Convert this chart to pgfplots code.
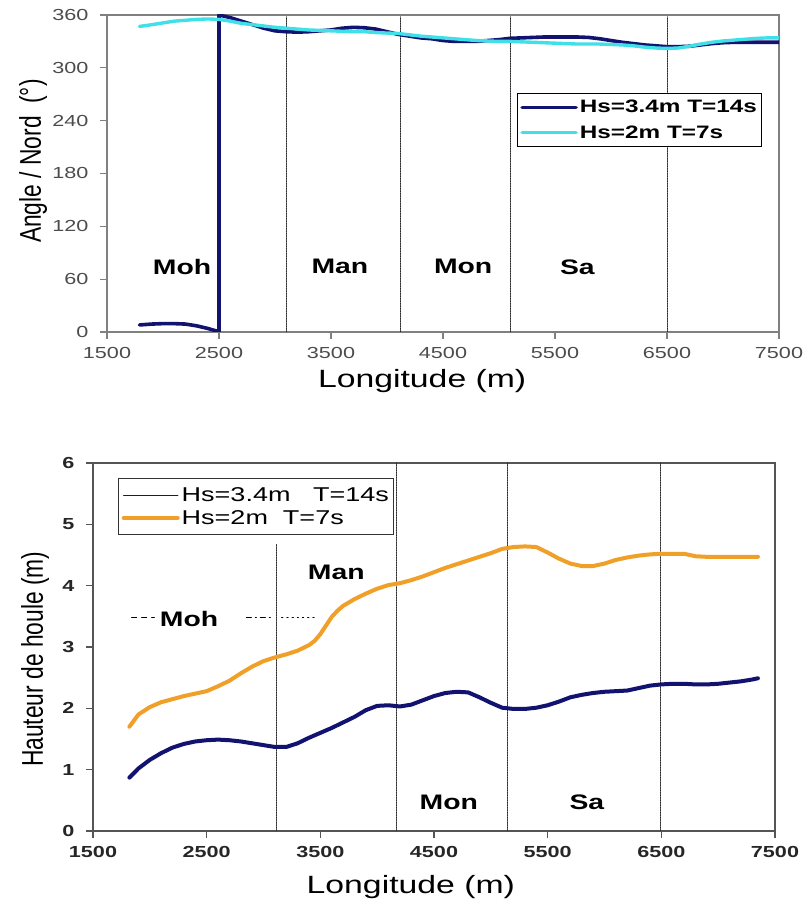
\documentclass[border=0pt]{standalone}
\usepackage{fontspec}
\setmainfont{Liberation Sans}[FakeStretch=1.35]
\newfontfamily\ylabfont{Liberation Sans}[FakeStretch=0.76]
\usepackage{pgfplots}
\pgfplotsset{compat=1.18}

\definecolor{navy}{RGB}{18,18,112}
\definecolor{aqua}{RGB}{64,224,232}
\definecolor{amber}{RGB}{240,160,40}
\definecolor{axgray}{RGB}{128,128,128}
\definecolor{axdark}{RGB}{85,85,85}

\newcommand{\fs}[1]{\fontsize{#1}{#1}\selectfont}

\tikzset{
  zone/.style={black!85, line width=0.8pt, dash pattern=on 1.5pt off 1pt},
  tag/.style={font=\bfseries\fs{21}},
}

\pgfplotsset{
  base/.style={
    scale only axis, xmin=1500, xmax=7500,
    xtick={1500,2500,...,7500},
    tick align=outside, xtick pos=left, ytick pos=left,
    major tick length=7pt,
    /pgf/number format/1000 sep={},
    /pgf/number format/assume math mode=true,
    xticklabel style={yshift=-5pt},
    yticklabel style={xshift=-8pt},
    every axis plot/.append style={line join=round, line cap=round},
    legend cell align=left,
    legend image code/.code={\draw[##1] (0pt,0pt) -- (54pt,0pt);},
  },
}

\begin{document}
\begin{tikzpicture}[x=1pt,y=1pt]
\useasboundingbox (0,0) rectangle (804,910);

% ---------- Direction de la houle ----------
\begin{axis}[base,
  at={(107pt,578pt)}, anchor=south west,
  width=672pt, height=317pt,
  ymin=0, ymax=360, ytick={0,60,...,360},
  axis line style={axgray, line width=1.2pt},
  tick style={axgray, line width=1.2pt},
  ticklabel style={font=\fs{16}, text=black!70},
  xlabel={Longitude (m)},
  xlabel style={font=\fs{25}, at={(axis description cs:0.469,-0.155)}, anchor=center},
  ylabel={Angle / Nord\ \ (°)},
  ylabel style={font=\ylabfont\fs{30}, at={(axis description cs:-0.110,0.539)}, anchor=center},
  legend style={at={(0.610,0.754)}, anchor=north west, draw=black, line width=0.8pt,
    fill=white, font=\bfseries\fs{18}, inner xsep=3pt, inner ysep=5pt, row sep=7pt},
]
\addplot[zone, forget plot] coordinates {(3100,0) (3100,358)};
\addplot[zone, forget plot] coordinates {(4120,0) (4120,358)};
\addplot[zone, forget plot] coordinates {(5100,0) (5100,358)};
\addplot[zone, forget plot] coordinates {(6500,0) (6500,358)};

\addplot[navy, line width=3.6pt] coordinates {
(1790,8) (1900,9) (2000,9.5) (2100,9.5) (2200,9) (2300,7) (2400,4) (2480,1) (2500,0)
(2500,360) (2600,357) (2700,353) (2800,349) (2900,345) (3000,342) (3100,341) (3200,340.5)
(3300,341) (3400,342) (3500,343) (3600,345) (3700,346) (3800,345.5) (3900,344) (4000,341)
(4100,338) (4200,336) (4300,334) (4400,333) (4500,331) (4600,330) (4700,330) (4800,330)
(4900,331) (5000,332) (5100,333.5) (5200,334) (5300,334.5) (5400,335) (5500,335) (5600,335)
(5700,335) (5800,334.5) (5900,333) (6000,331) (6100,329) (6200,327.5) (6300,326) (6400,325)
(6500,324) (6600,324) (6700,324.5) (6800,326) (6900,327.5) (7000,328.5) (7100,329) (7200,329)
(7300,329) (7400,329) (7500,329)};
\addlegendentry{Hs=3.4m T=14s}

\addplot[aqua, line width=3.4pt] coordinates {
(1790,347) (1900,349) (2000,351) (2100,353) (2200,354) (2300,355) (2400,355.5) (2500,355)
(2600,353) (2700,350.5) (2800,349) (2900,347.5) (3000,346) (3100,345) (3200,344) (3300,343)
(3400,342.5) (3500,342) (3600,341.5) (3700,341) (3800,341) (3900,340) (4000,339.5) (4100,339)
(4200,337.5) (4300,336) (4400,335) (4500,334) (4600,333) (4700,332) (4800,331) (4900,330.5)
(5000,330) (5100,330) (5200,329.5) (5300,329) (5400,328.5) (5500,328) (5600,327.5) (5700,327)
(5800,327) (5900,327) (6000,326.5) (6100,326) (6200,325) (6300,323.5) (6400,322.5) (6500,322)
(6600,322.5) (6700,324.5) (6800,327) (6900,329) (7000,330.5) (7100,331.5) (7200,332.5)
(7300,333.5) (7400,334) (7500,334)};
\addlegendentry{Hs=2m T=7s}

\node[tag] at (axis cs:2170,74) {Moh};
\node[tag] at (axis cs:3580,74) {Man};
\node[tag] at (axis cs:4680,74) {Mon};
\node[tag] at (axis cs:5700,74) {Sa};
\end{axis}

% ---------- Hauteur de houle ----------
\begin{axis}[base,
  at={(93pt,79pt)}, anchor=south west,
  width=682pt, height=368pt,
  ymin=0, ymax=6, ytick={0,1,...,6},
  axis line style={axdark, line width=1.2pt},
  tick style={axdark, line width=1.2pt},
  ticklabel style={font=\bfseries\fs{16}, text=black!85},
  xlabel={Longitude (m)},
  xlabel style={font=\fs{25}, at={(axis description cs:0.466,-0.152)}, anchor=center},
  ylabel={Hauteur de houle (m)},
  ylabel style={font=\ylabfont\fs{30}, at={(axis description cs:-0.085,0.467)}, anchor=center},
  legend style={at={(0.037,0.959)}, anchor=north west, draw=black!80, line width=1pt,
    fill=white, font=\fs{20}, inner xsep=3pt, inner ysep=7pt, row sep=3pt},
]
\addplot[zone, forget plot] coordinates {(3110,0) (3110,4.68)};
\addplot[zone, forget plot] coordinates {(4170,0) (4170,6)};
\addplot[zone, forget plot] coordinates {(5150,0) (5150,6)};
\addplot[zone, forget plot] coordinates {(6490,0) (6490,6)};

\addplot[navy, line width=4pt,
  legend image code/.code={\draw[navy, line width=1.5pt] (0pt,0pt) -- (54pt,0pt);}] coordinates {
(1820,0.87) (1900,1.02) (2000,1.16) (2100,1.27) (2200,1.36) (2300,1.42) (2400,1.46) (2500,1.48)
(2600,1.49) (2700,1.48) (2800,1.46) (2900,1.43) (3000,1.40) (3100,1.37) (3200,1.37) (3300,1.43)
(3400,1.52) (3500,1.60) (3600,1.68) (3700,1.77) (3800,1.86) (3900,1.97) (4000,2.04) (4100,2.05)
(4200,2.03) (4300,2.06) (4400,2.13) (4500,2.20) (4600,2.25) (4700,2.27) (4800,2.26) (4900,2.18)
(5000,2.09) (5100,2.01) (5200,1.99) (5300,1.99) (5400,2.01) (5500,2.05) (5600,2.11) (5700,2.18)
(5800,2.22) (5900,2.25) (6000,2.27) (6100,2.28) (6200,2.29) (6300,2.33) (6400,2.37) (6500,2.39)
(6600,2.40) (6700,2.40) (6800,2.39) (6900,2.39) (7000,2.40) (7100,2.42) (7200,2.44) (7300,2.47)
(7350,2.49)};
\addlegendentry{Hs=3.4m\ \ \ T=14s}

\addplot[amber, line width=4pt] coordinates {
(1820,1.70) (1900,1.90) (2000,2.02) (2100,2.10) (2200,2.15) (2300,2.20) (2400,2.24) (2500,2.28)
(2600,2.36) (2700,2.45) (2800,2.57) (2900,2.68) (3000,2.77) (3100,2.83) (3200,2.88) (3300,2.94)
(3400,3.03) (3450,3.10) (3500,3.21) (3550,3.35) (3600,3.49) (3650,3.59) (3700,3.67) (3800,3.78)
(3900,3.87) (4000,3.95) (4100,4.01)
(4200,4.04) (4300,4.09) (4400,4.15) (4500,4.22) (4600,4.29) (4700,4.35) (4800,4.41) (4900,4.47)
(5000,4.53) (5100,4.60) (5200,4.63) (5300,4.64) (5400,4.63) (5500,4.54) (5600,4.44) (5700,4.36)
(5800,4.32) (5900,4.32) (6000,4.36) (6100,4.42) (6200,4.46) (6300,4.49) (6400,4.51) (6500,4.52)
(6600,4.52) (6700,4.52) (6800,4.48) (6900,4.47) (7000,4.47) (7100,4.47) (7200,4.47) (7350,4.47)};
\addlegendentry{Hs=2m\ \ T=7s}

% Moh zone marker
\addplot[black, line width=1pt, dash pattern=on 5pt off 5pt, forget plot]
  coordinates {(1840,3.48) (2040,3.48)};
\addplot[black, line width=1pt, dash pattern=on 5pt off 4pt on 1pt off 4pt, forget plot]
  coordinates {(2850,3.48) (3080,3.48)};
\addplot[black, line width=1pt, dash pattern=on 1.2pt off 4pt, forget plot]
  coordinates {(3160,3.48) (3480,3.48)};
\node[tag] at (axis cs:2345,3.46) {Moh};
\node[tag] at (axis cs:3640,4.22) {Man};
\node[tag] at (axis cs:4630,0.47) {Mon};
\node[tag] at (axis cs:5845,0.47) {Sa};
\end{axis}
\end{tikzpicture}
\end{document}
